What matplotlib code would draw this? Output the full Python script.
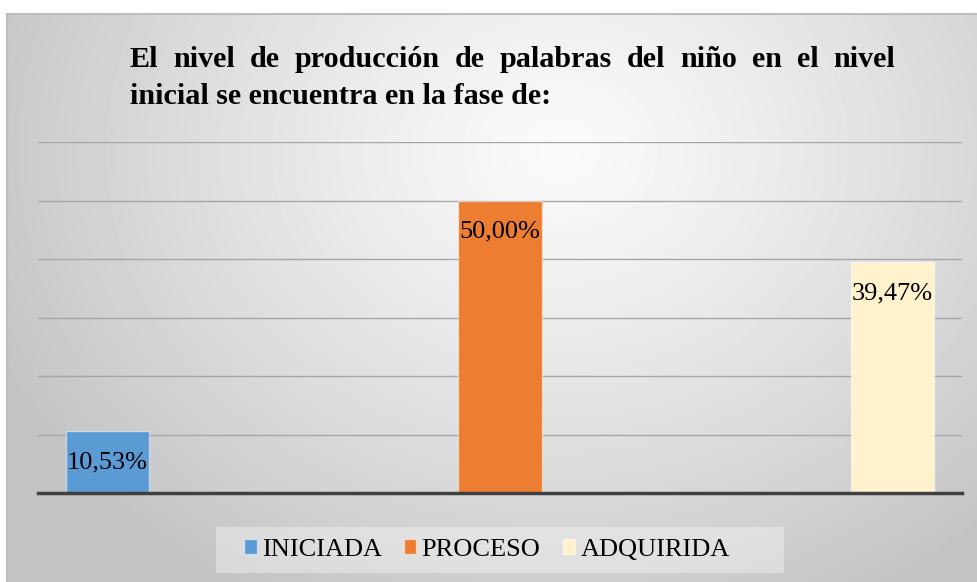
import numpy as np
import matplotlib.pyplot as plt
from matplotlib.patches import Rectangle

categorias = ['INICIADA', 'PROCESO', 'ADQUIRIDA']
porcentajes = [10.53, 50.00, 39.47]
etiquetas = ['10,53%', '50,00%', '39,47%']
colores = ['#5b9bd5', '#ed7d31', '#fff2cc']
titulo_1 = 'El nivel de producción de palabras del niño en el nivel'
titulo_2 = 'inicial se encuentra en la fase de:'

W, H = 978, 582
SERIF = 'Liberation Serif'

fig = plt.figure(figsize=(W / 100, H / 100), dpi=100)
fig.patch.set_facecolor('white')

# fondo con degradado radial (area del grafico)
bg = fig.add_axes([7 / W, 0, 1 - 7 / W, 1 - 14 / H], zorder=0)
yy, xx = np.mgrid[14:H, 7:W]
r = np.hypot(xx - 560, (yy - 150) * 1.2)
g = 250 - 55 * np.clip(r / 620, 0, 1) ** 1.2
bg.imshow(g, cmap='gray', vmin=0, vmax=255, aspect='auto', interpolation='bilinear')
bg.set_xticks([])
bg.set_yticks([])
for s in ['right', 'bottom']:
    bg.spines[s].set_visible(False)
for s in ['top', 'left']:
    bg.spines[s].set_color('#bdbdbd')
    bg.spines[s].set_linewidth(1.5)

# area de trazado
ax = fig.add_axes([38 / W, 1 - 493 / H, 924 / W, 351 / H], zorder=1)
ax.patch.set_alpha(0)
x = np.arange(len(categorias))
barras = ax.bar(x, porcentajes, width=0.212, color=colores,
                edgecolor=(1, 1, 1, 0.5), linewidth=1, zorder=3)
ax.set_xlim(-0.177, 2.177)
ax.set_ylim(0, 60)
ax.set_yticks(np.arange(0, 61, 10))
ax.grid(axis='y', color='#a6a6a6', linewidth=1)
ax.set_axisbelow(True)
ax.tick_params(length=0, labelbottom=False, labelleft=False)
for s in ['top', 'right', 'left']:
    ax.spines[s].set_visible(False)
ax.spines['bottom'].set_color('#404040')
ax.spines['bottom'].set_linewidth(2.5)
ax.spines['bottom'].set_zorder(4)

for xi, v, lab in zip(x, porcentajes, etiquetas):
    ax.annotate(lab, (xi, v), xytext=(0, -22.5), textcoords='offset points',
                ha='center', va='center', fontsize=19, family=SERIF, zorder=5)

# leyenda
fig.add_artist(Rectangle((216 / W, 1 - 573 / H), 568 / W, 46 / H,
                         transform=fig.transFigure, facecolor='white',
                         alpha=0.35, edgecolor='none', zorder=1))
fig.legend(barras, categorias, loc='center', bbox_to_anchor=(487 / W, 1 - 550 / H),
           ncol=3, frameon=False,
           prop=dict(family=SERIF, size=19),
           handlelength=0.46, handleheight=0.46, handletextpad=0.2,
           columnspacing=0.85)

# titulo justificado
fs_t = 21.7
rend = fig.canvas.get_renderer()
palabras = titulo_1.split()
objs = [fig.text(0, 1 - 67 / H, p, fontsize=fs_t, fontweight='bold',
                 family=SERIF, va='baseline') for p in palabras]
anchos = [t.get_window_extent(rend).width for t in objs]
hueco = (895 - 130 - sum(anchos)) / (len(palabras) - 1)
xp = 130
for t, a in zip(objs, anchos):
    t.set_x(xp / W)
    xp += a + hueco
fig.text(130 / W, 1 - 104 / H, titulo_2, fontsize=fs_t, fontweight='bold',
         family=SERIF, va='baseline')

fig.savefig('out.png', dpi=100)
